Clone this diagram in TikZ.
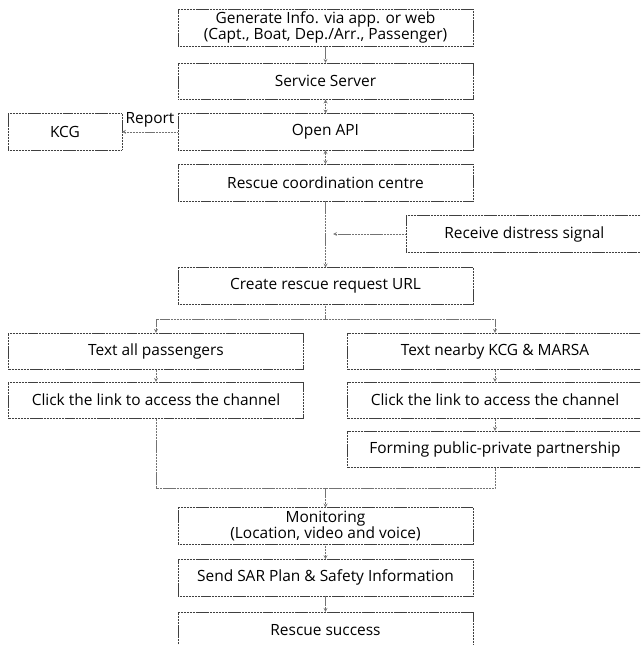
\documentclass[tikz,border=0pt]{standalone}
\usepackage{fontspec}
\setmainfont{Open Sans}
\usepackage{xcolor}
\usepackage{tikz}
\usetikzlibrary{positioning}
\tikzstyle{box} = [rectangle, minimum width=8.85cm, minimum height=1.1cm, inner sep=2pt, outer sep=0pt, text centered, align=center, draw=black!75, line width=0.5pt, dash pattern=on 1pt off 0.3pt]
\tikzstyle{link} = [draw=black!55, line width=0.5pt, dash pattern=on 1pt off 0.3pt]
\tikzstyle{arr} = [link, -stealth]
\tikzstyle{arrs} = [link, stealth-stealth]

\begin{document}
\begin{tikzpicture}[font=\fontsize{13.2}{13.5}\selectfont]
		\useasboundingbox (0,0) rectangle (19.2,-19.35);
		\clip (0,0) rectangle (19.2,-19.35);
		\node (Generate)[box] at (9.765,-0.825) {Generate Info. via app. or web\\(Capt., Boat, Dep./Arr., Passenger)};
		\node (Server)[box, below = 0.51cm of Generate]{Service Server};
		\node (API)[box, below = 0.42cm of Server]{Open API};
		\node (KCG)[box, minimum width=3.42cm, left = 1.68cm of API]{KCG};
		\node (RCC)[box, below = 0.42cm of API]{Rescue coordination centre};
		\node (URL)[box, below = 2cm of RCC]{Create rescue request URL};
		\node (Signal)[box, minimum width=7.1cm, anchor=west] at (12.18,-7.02) {Receive distress signal};
		\coordinate (Signal end) at (9.99,-7.02);
		\coordinate (Split) at ([yshift=-0.44cm]URL.south);
		\node (Text all)[box, below = 0.86cm of URL, xshift=-5.085cm]{Text all passengers};
		\node (Text near)[box, below = 0.86cm of URL, xshift=5.085cm]{Text nearby KCG \& MARSA};
		\node (Click left)[box, below = 0.37cm of Text all]{Click the link to access the channel};
		\node (Click right)[box, below = 0.37cm of Text near]{Click the link to access the channel};
		\node (Forming)[box, below = 0.37cm of Click right]{Forming public-private partnership};
		\node (Monitoring)[box, below = 6.1cm of URL]{Monitoring\\(Location, video and voice)};
		\coordinate (Join) at ([yshift=0.59cm]Monitoring.north);
		\node (SAR)[box, below = 0.45cm of Monitoring]{Send SAR Plan \& Safety Information};
		\node (Success)[box, below = 0.48cm of SAR]{Rescue success};
		\draw [arr] (Generate) -- (Server);
		\draw [arrs] (Server) -- (API);
		\draw [arrs] (API) -- (RCC);
		\draw [arr] (API) -- node[above]{Report} (KCG);
		\draw [arr] (RCC) -- (URL);
		\draw [arr] (Signal) -- (Signal end);
		\draw [link] (URL) -- (Split);
		\draw [arr] (Split) -| (Text all);
		\draw [arr] (Split) -| (Text near);
		\draw [arr] (Text all) -- (Click left);
		\draw [arr] (Text near) -- (Click right);
		\draw [arr] (Click right) -- (Forming);
		\draw [link] (Click left.south) |- (Join) -| (Forming.south);
		\draw [arr] (Join) -- (Monitoring);
		\draw [arr] (Monitoring) -- (SAR);
		\draw [arr] (SAR) -- (Success);
	\end{tikzpicture}
\end{document}
